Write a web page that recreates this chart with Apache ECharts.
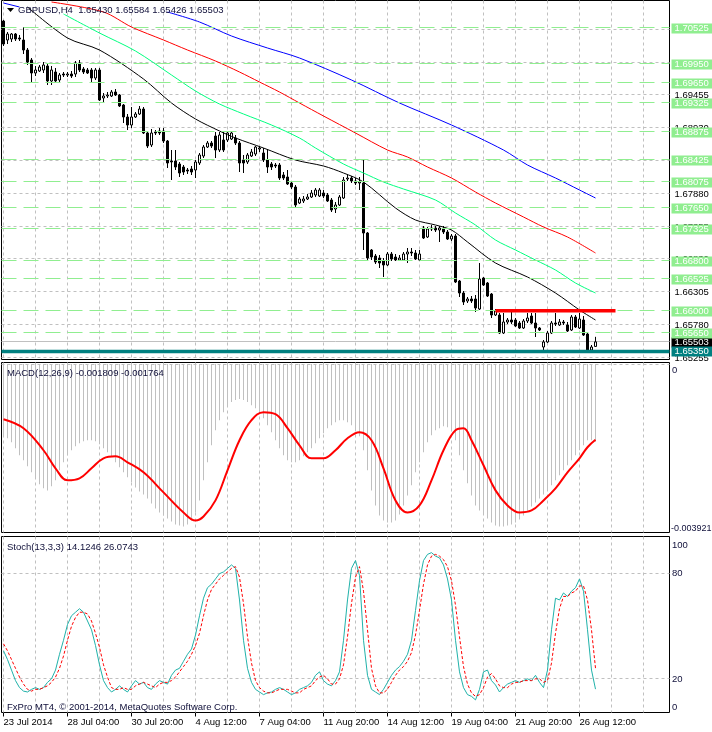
<!DOCTYPE html>
<html><head><meta charset="utf-8">
<script src="https://cdn.jsdelivr.net/npm/echarts/dist/echarts.min.js"></script>
<style>html,body{margin:0;padding:0;background:#fff}#c{width:712px;height:732px}</style>
</head><body><div id="c"></div>
<script>
// ---------- data ----------
const symbolName = 'GBPUSD,H4';
const tickLabels = ['23 Jul 2014','28 Jul 04:00','30 Jul 20:00','4 Aug 12:00','7 Aug 04:00','11 Aug 20:00','14 Aug 12:00','19 Aug 04:00','21 Aug 20:00','26 Aug 12:00'];
const slotCount = 167;
const categories = Array.from({length: slotCount}, (_, i) => String(i));

const opens = [1.70637,1.70333,1.70349,1.70429,1.70365,1.70333,1.70173,1.70013,1.69805,1.69837,
1.69853,1.69917,1.69677,1.69821,1.69693,1.69789,1.69773,1.69789,1.69789,1.69965,
1.69869,1.69853,1.69853,1.69725,1.69853,1.69405,1.69437,1.69437,1.69501,1.69453,
1.69293,1.69101,1.68973,1.69101,1.69149,1.69229,1.68845,1.68653,1.68861,1.68877,
1.68877,1.68717,1.68397,1.68397,1.68349,1.68301,1.68253,1.68269,1.68253,1.68365,
1.68477,1.68621,1.68685,1.68797,1.68573,1.68733,1.68733,1.68749,1.68765,1.68685,
1.68413,1.68381,1.68477,1.68509,1.68589,1.68525,1.68413,1.68349,1.68333,1.68333,
1.68173,1.68141,1.68045,1.67981,1.67725,1.67757,1.67789,1.67821,1.67853,1.67837,
1.67885,1.67853,1.67773,1.67629,1.67693,1.67805,1.68109,1.68125,1.68077,1.68045,
1.68045,1.67245,1.66973,1.66877,1.66845,1.66797,1.66733,1.66909,1.66861,1.66813,
1.66813,1.66909,1.66941,1.66925,1.66813,1.67325,1.67181,1.67309,1.67325,1.67293,
1.67309,1.67261,1.67149,1.67197,1.66477,1.66285,1.66157,1.66189,1.66189,1.66029,
1.66525,1.66445,1.66269,1.65933,1.65933,1.65645,1.65821,1.65853,1.65853,1.65805,
1.65725,1.65837,1.65917,1.65805,1.65725,1.65421,1.65501,1.65645,1.65805,1.65773,
1.65821,1.65773,1.65693,1.65901,1.65725,1.65853,1.65629,1.65373,1.65430];
const highs = [1.70653,1.70461,1.70445,1.70445,1.70413,1.70541,1.70205,1.70045,1.69917,1.69933,
1.69981,1.69949,1.69917,1.69885,1.69805,1.69821,1.69821,1.69837,1.69997,1.70013,
1.69901,1.69885,1.69885,1.69885,1.69885,1.69485,1.69501,1.69533,1.69549,1.69469,
1.69309,1.69149,1.69261,1.69181,1.69277,1.69261,1.68861,1.68909,1.68893,1.68925,
1.68925,1.68733,1.68573,1.68573,1.68381,1.68333,1.68285,1.68317,1.68413,1.68525,
1.68653,1.68717,1.68717,1.68861,1.68861,1.68861,1.68877,1.68877,1.68813,1.68717,
1.68493,1.68525,1.68589,1.68637,1.68637,1.68605,1.68589,1.68381,1.68365,1.68365,
1.68221,1.68253,1.68077,1.68013,1.67821,1.67837,1.67869,1.67933,1.67965,1.67965,
1.67933,1.67885,1.67805,1.67741,1.67853,1.68141,1.68173,1.68157,1.68125,1.68141,
1.68429,1.67261,1.66989,1.66909,1.66893,1.66845,1.66941,1.66941,1.66909,1.66893,
1.66941,1.67005,1.67005,1.66973,1.66973,1.67357,1.67341,1.67373,1.67357,1.67357,
1.67357,1.67293,1.67229,1.67229,1.66493,1.66317,1.66221,1.66237,1.66253,1.66765,
1.66541,1.66461,1.66285,1.66029,1.65965,1.65965,1.65885,1.65997,1.65885,1.65837,
1.65869,1.65965,1.65965,1.65965,1.65741,1.65533,1.65677,1.65837,1.65965,1.65869,
1.65853,1.65821,1.65933,1.65933,1.65965,1.65917,1.65645,1.65453,1.65584];
const lows = [1.70237,1.70269,1.70301,1.70317,1.70317,1.70109,1.69933,1.69645,1.69757,1.69821,
1.69805,1.69613,1.69613,1.69661,1.69661,1.69741,1.69741,1.69725,1.69741,1.69821,
1.69789,1.69789,1.69661,1.69693,1.69357,1.69341,1.69405,1.69421,1.69437,1.69261,
1.69005,1.68893,1.68925,1.69085,1.69133,1.68829,1.68605,1.68621,1.68813,1.68813,
1.68685,1.68285,1.68093,1.68253,1.68141,1.68173,1.68189,1.68173,1.68125,1.68333,
1.68445,1.68605,1.68605,1.68445,1.68541,1.68541,1.68701,1.68733,1.68653,1.68221,
1.68205,1.68349,1.68461,1.68477,1.68541,1.68381,1.68205,1.68253,1.68285,1.68093,
1.68093,1.68013,1.67949,1.67661,1.67709,1.67725,1.67773,1.67805,1.67821,1.67821,
1.67805,1.67741,1.67581,1.67565,1.67677,1.67789,1.68077,1.68045,1.68013,1.67933,
1.66973,1.66813,1.66813,1.66749,1.66685,1.66541,1.66717,1.66797,1.66797,1.66797,
1.66797,1.66765,1.66877,1.66813,1.66797,1.67149,1.67165,1.67277,1.67261,1.67101,
1.67229,1.67133,1.67117,1.66445,1.66221,1.66093,1.66125,1.66125,1.65981,1.66013,
1.66397,1.66221,1.65885,1.65917,1.65629,1.65629,1.65789,1.65789,1.65741,1.65709,
1.65709,1.65805,1.65789,1.65581,1.65677,1.65325,1.65485,1.65629,1.65757,1.65757,
1.65773,1.65661,1.65677,1.65725,1.65709,1.65597,1.65341,1.65357,1.65426];
const closes = [1.70269,1.70429,1.70429,1.70349,1.70349,1.70173,1.69981,1.69805,1.69853,1.69901,
1.69933,1.69677,1.69853,1.69677,1.69773,1.69773,1.69789,1.69757,1.69965,1.69853,
1.69821,1.69805,1.69725,1.69853,1.69373,1.69437,1.69453,1.69501,1.69453,1.69277,
1.69101,1.68973,1.69101,1.69149,1.69229,1.68845,1.68637,1.68845,1.68845,1.68845,
1.68717,1.68365,1.68381,1.68301,1.68205,1.68221,1.68237,1.68221,1.68381,1.68493,
1.68621,1.68685,1.68637,1.68573,1.68813,1.68573,1.68845,1.68845,1.68685,1.68365,
1.68365,1.68493,1.68541,1.68621,1.68605,1.68413,1.68301,1.68301,1.68317,1.68125,
1.68125,1.68029,1.67981,1.67693,1.67789,1.67789,1.67821,1.67885,1.67933,1.67933,
1.67837,1.67757,1.67613,1.67693,1.67821,1.68093,1.68125,1.68077,1.68045,1.68061,
1.67245,1.66845,1.66861,1.66781,1.66765,1.66733,1.66909,1.66829,1.66813,1.66845,
1.66909,1.66941,1.66925,1.66829,1.66909,1.67165,1.67309,1.67325,1.67293,1.67325,
1.67261,1.67149,1.67197,1.66461,1.66285,1.66141,1.66189,1.66157,1.66045,1.66509,
1.66413,1.66237,1.65933,1.65997,1.65645,1.65821,1.65853,1.65821,1.65757,1.65725,
1.65837,1.65885,1.65805,1.65725,1.65693,1.65501,1.65645,1.65805,1.65789,1.65821,
1.65805,1.65677,1.65901,1.65741,1.65869,1.65613,1.65357,1.65421,1.65503];

// moving averages (bar index, value)
const maBlackBars = [6,16,24,35,42,48,54,58,65,73,80,85,90,98,103,108,112,116,123,131,138,144,148];
const maBlackVals = [1.70861,1.70365,1.70173,1.69709,1.69325,1.69069,1.68877,1.68765,1.68605,1.68413,1.68317,1.68205,1.68061,1.67645,1.67453,1.67373,1.67293,1.67101,1.66765,1.66541,1.66285,1.66013,1.65853];
const maGreenBars = [15,24,33,42,48,54,60,67,74,78,85,90,95,100,108,113,118,123,128,133,138,143,148];
const maGreenVals = [1.70749,1.70445,1.70157,1.69773,1.69517,1.69309,1.69149,1.68973,1.68765,1.68605,1.68349,1.68205,1.68061,1.67949,1.67773,1.67565,1.67373,1.67133,1.66973,1.66813,1.66653,1.66445,1.66285];
const maRedBars = [12,25,32,40,46,53,59,64,69,74,80,88,96,101,106,112,118,123,130,135,141,148];
const maRedVals = [1.70941,1.70781,1.70541,1.70333,1.70173,1.69997,1.69821,1.69661,1.69501,1.69325,1.69117,1.68845,1.68573,1.68461,1.68301,1.68125,1.67901,1.67725,1.67501,1.67341,1.67181,1.66925];
const maBlueHeadBars = [0,4];
const maBlueHeadVals = [1.70925,1.70861];
const maBlueBars = [41,49,57,66,74,87,99,112,125,131,138,144,148];
const maBlueVals = [1.70781,1.70621,1.70397,1.70205,1.70045,1.69693,1.69325,1.68973,1.68573,1.68333,1.68125,1.67933,1.67805];

// horizontal objects
const greenLevels = [1.70525,1.69950,1.69650,1.69325,1.68875,1.68425,1.68075,1.67650,1.67325,1.66800,1.66525,1.66000,1.65650];
const supportLevel = 1.65350;
const bidPrice = 1.65503;
const redLevel = 1.66000, redFromBar = 123, redToBar = 153;
const priceGridTicks = [1.65255,1.65780,1.66305,1.66830,1.67355,1.67880,1.68405,1.68930,1.69455,1.69980,1.70505];
const priceMin = 1.65221, priceMax = 1.70965;

// MACD(12,26,9)
const macdMain = [-0.001657,-0.001727,-0.001821,-0.001961,-0.002124,-0.002241,-0.002381,-0.002521,-0.002661,-0.002801,
-0.002894,-0.002941,-0.002847,-0.002707,-0.002474,-0.002287,-0.002124,-0.002007,-0.001914,-0.001844,
-0.001797,-0.001774,-0.001774,-0.001797,-0.001867,-0.001961,-0.002054,-0.002147,-0.002287,-0.002404,
-0.002521,-0.002637,-0.002754,-0.002871,-0.002964,-0.003034,-0.003128,-0.003244,-0.003361,-0.003454,
-0.003524,-0.003594,-0.003664,-0.003734,-0.003758,-0.003781,-0.003734,-0.003641,-0.003454,-0.003174,
-0.002707,-0.002287,-0.001891,-0.001540,-0.001307,-0.001120,-0.000980,-0.000887,-0.000840,-0.000817,
-0.000840,-0.000887,-0.000957,-0.001027,-0.001120,-0.001260,-0.001424,-0.001587,-0.001774,-0.001961,
-0.002124,-0.002241,-0.002287,-0.002287,-0.002241,-0.002147,-0.002054,-0.001961,-0.001844,-0.001727,
-0.001610,-0.001494,-0.001424,-0.001354,-0.001307,-0.001307,-0.001354,-0.001424,-0.001540,-0.001680,
-0.002007,-0.002474,-0.002941,-0.003291,-0.003524,-0.003641,-0.003688,-0.003688,-0.003641,-0.003501,
-0.003291,-0.003058,-0.002824,-0.002521,-0.002287,-0.002054,-0.001821,-0.001657,-0.001540,-0.001494,
-0.001447,-0.001470,-0.001540,-0.001774,-0.002124,-0.002474,-0.002777,-0.003058,-0.003291,-0.003408,
-0.003501,-0.003594,-0.003688,-0.003758,-0.003781,-0.003781,-0.003758,-0.003734,-0.003688,-0.003618,
-0.003524,-0.003408,-0.003314,-0.003221,-0.003128,-0.003034,-0.002941,-0.002824,-0.002707,-0.002591,
-0.002474,-0.002357,-0.002241,-0.002124,-0.002007,-0.001891,-0.001774,-0.001774,-0.001809];
const macdSignalBars = [0,5,10,13,16,19,22,25,28,31,35,40,45,48,50,53,56,59,62,65,68,71,74,77,80,83,86,89,92,95,98,101,104,107,110,113,115,117,120,123,126,129,132,135,138,141,144,146,148];
const macdSignalVals = [-0.001284,-0.001494,-0.002007,-0.002427,-0.002707,-0.002661,-0.002427,-0.002194,-0.002147,-0.002287,-0.002521,-0.002988,-0.003454,-0.003641,-0.003548,-0.003174,-0.002474,-0.001774,-0.001307,-0.001120,-0.001167,-0.001494,-0.001891,-0.002194,-0.002194,-0.002007,-0.001727,-0.001587,-0.001774,-0.002427,-0.003174,-0.003454,-0.003291,-0.002707,-0.002007,-0.001540,-0.001494,-0.001774,-0.002357,-0.002941,-0.003291,-0.003454,-0.003408,-0.003174,-0.002894,-0.002521,-0.002194,-0.001937,-0.001764];
const macdMin = -0.003921;

// Stoch(13,3,3)
const stochMain = [36,31,25,19,15,13,12.5,14,15,14,15,18,20,25,34,42,51,56,58,60,58,53,48,39,28,19,15,12.5,14,16,
14,12.5,16,19,17,18,15,14,17,19,18,17,22,25,26,30,34,37,45,56,66,72,74,77,80,81,83,85,83,65,
42,26,18,14,12.5,11,12,12.5,14,15,14,12.5,11,12,14,15,16,18,22,24,19,17,16,19,24,42,65,83,87.5,79,
42,22,14,12.5,11,14,18,22,25,27,30,34,42,59,76,87.5,91,92,90,89,85,77,65,42,24,15,11,10,8,14,
24,25,19,16.5,12.5,15,17,18,19,18,19,20,19,22,18,15,25,48,66,65,69,67,70,72,77,70,48,25,14.1246];
const stochSignal = [40,36,31,26,21,17,14,13,14,14,15,16,18,21,26,33,42,50,55,58,58,57,53,46,38,28,21,15,14,14,
15,14,14,16,17,18,17,16,15,17,18,18,19,21,24,27,30,34,39,46,56,65,71,74,77,79,81,83,84,78,
63,44,29,19,15,13,12,12,13,14,14,14,13,12,12,14,15,16,19,21,22,20,17,17,20,28,44,63,78,84,
70,48,26,16,12,12,14,18,22,25,27,30,35,45,59,74,85,90,91,90,88,84,76,62,44,27,17,12,10,11,
15,21,23,20,16,15,15,17,18,18,19,19,19,20,20,18,19,29,46,60,67,67,69,70,73,73,65,48,26.0743];
const stochLevels = [80, 20];
const stochAxisLabels = [100, 80, 20, 0];

// ---------- chart ----------
const FONT = 'Liberation Sans';
const FONTCSS = '9.5px "Liberation Sans"';
const TXT = '#10103a';
const last = closes.length - 1;
const pairs = (bars, vals) => bars.map((b, k) => [b, vals[k]]);
const gridLeft = 1.5, gridWidth = 668;
const vertIdx = []; for (let i = 0; i < slotCount; i += 8) vertIdx.push(i);
const crisp = (v) => Math.round(v - 0.5) + 0.5;

// horizontal rule lines (+ optional right-side price tag) drawn through the axis scale
function hLines(gi, levels, lineStyle, tag, z) {
  return {
    type: 'custom', xAxisIndex: gi, yAxisIndex: gi, z: z, silent: true, clip: false,
    data: levels.map(v => [0, v]), encode: {x: 0, y: 1},
    renderItem: (params, api) => {
      const cs = params.coordSys;
      const val = api.value(1);
      let y = api.coord([0, val])[1];
      if (lineStyle.lineWidth === 1) y = crisp(y);
      const children = [{type: 'line', shape: {x1: cs.x, y1: y, x2: cs.x + cs.width, y2: y}, style: lineStyle}];
      if (tag) {
        children.push({type: 'text', x: cs.x + cs.width + 2, y: Math.round(y) + 0.5, z2: 10,
          style: {text: val.toFixed(5), fill: tag.color, backgroundColor: tag.bg || null, padding: tag.bg ? [0, 7, 0, 3] : [0, 0, 0, 3],
            font: FONTCSS, lineHeight: 10, verticalAlign: 'middle', align: 'left'}});
      }
      return {type: 'group', children};
    }
  };
}
function vLines(gi, z) {
  return {
    type: 'custom', xAxisIndex: gi, yAxisIndex: gi, z: z, silent: true,
    data: vertIdx.map(i => [i, 0]), encode: {x: 0, y: 1},
    renderItem: (params, api) => {
      const cs = params.coordSys;
      const x = crisp(api.coord([api.value(0), 0])[0]);
      return {type: 'line', shape: {x1: x, y1: cs.y, x2: x, y2: cs.y + cs.height}, style: {stroke: '#c0c0c0', lineWidth: 1, lineDash: [3, 3]}};
    }
  };
}
const gridDash = {stroke: '#c0c0c0', lineWidth: 1, lineDash: [3, 3]};

function xAxisDef(gi, showLabels) {
  return {
    type: 'category', gridIndex: gi, data: categories, boundaryGap: true,
    axisLine: {show: false}, splitLine: {show: false},
    axisTick: {show: showLabels, alignWithLabel: true, length: 4, interval: (i) => i % 16 === 0 && i / 16 < tickLabels.length, lineStyle: {color: '#000'}},
    axisLabel: {show: showLabels, align: 'left', margin: 5, fontFamily: FONT, fontSize: 9.5, color: '#000',
      interval: (i) => i % 16 === 0 && i / 16 < tickLabels.length,
      formatter: (v, i) => tickLabels[i / 16] || ''}
  };
}

const option = {
  animation: false,
  backgroundColor: '#fff',
  grid: [
    {left: gridLeft, top: 0.5, width: gridWidth, height: 359, show: true, borderColor: '#000', borderWidth: 1},
    {left: gridLeft, top: 362.5, width: gridWidth, height: 170, show: true, borderColor: '#000', borderWidth: 1},
    {left: gridLeft, top: 536.5, width: gridWidth, height: 176, show: true, borderColor: '#000', borderWidth: 1}
  ],
  xAxis: [xAxisDef(0, false), xAxisDef(1, false), xAxisDef(2, true)],
  yAxis: [
    {type: 'value', gridIndex: 0, min: priceMin, max: priceMax, show: false, splitLine: {show: false}},
    {type: 'value', gridIndex: 1, min: macdMin, max: 0.000035, show: false, splitLine: {show: false}},
    {type: 'value', gridIndex: 2, min: 0.8, max: 101.2, show: false, splitLine: {show: false}}
  ],
  series: [
    // grids
    vLines(0, 1), vLines(1, 1), vLines(2, 1),
    hLines(0, priceGridTicks, gridDash, {color: '#000'}, 1),
    hLines(1, [0], gridDash, null, 1),
    hLines(2, stochLevels, gridDash, null, 1),
    // bid line
    hLines(0, [bidPrice], {stroke: '#c0c0c0', lineWidth: 1}, {color: '#fff', bg: '#000'}, 2),
    // candles
    {type: 'candlestick', xAxisIndex: 0, yAxisIndex: 0, z: 3, barWidth: 3,
      itemStyle: {color: '#fff', color0: '#000', borderColor: '#000', borderColor0: '#000', borderColorDoji: '#000', borderWidth: 1},
      data: opens.map((o, i) => [o, closes[i], lows[i], highs[i]])},
    // moving averages
    {type: 'line', xAxisIndex: 0, yAxisIndex: 0, z: 4, symbol: 'none', smooth: 0.3, lineStyle: {color: '#000', width: 1}, data: pairs(maBlackBars, maBlackVals)},
    {type: 'line', xAxisIndex: 0, yAxisIndex: 0, z: 4, symbol: 'none', smooth: 0.3, lineStyle: {color: '#00ff7f', width: 1}, data: pairs(maGreenBars, maGreenVals)},
    {type: 'line', xAxisIndex: 0, yAxisIndex: 0, z: 4, symbol: 'none', smooth: 0.3, lineStyle: {color: '#ff0000', width: 1}, data: pairs(maRedBars, maRedVals)},
    {type: 'line', xAxisIndex: 0, yAxisIndex: 0, z: 4, symbol: 'none', smooth: 0.3, lineStyle: {color: '#0000ff', width: 1}, data: pairs(maBlueBars, maBlueVals)},
    {type: 'line', xAxisIndex: 0, yAxisIndex: 0, z: 4, symbol: 'none', lineStyle: {color: '#0000ff', width: 1}, data: pairs(maBlueHeadBars, maBlueHeadVals)},
    // green levels
    hLines(0, greenLevels, {stroke: '#90ee90', lineWidth: 1, lineDash: [15, 7]}, {color: '#fff', bg: '#90ee90'}, 5),
    // support level (teal)
    hLines(0, [supportLevel], {stroke: '#008080', lineWidth: 3.5}, {color: '#fff', bg: '#008080'}, 6),
    // red resistance segment
    {type: 'custom', xAxisIndex: 0, yAxisIndex: 0, z: 6, silent: true,
      data: [[redFromBar, redLevel, redToBar]], encode: {x: 0, y: 1},
      renderItem: (params, api) => {
        const p1 = api.coord([api.value(0), api.value(1)]);
        const p2 = api.coord([api.value(2), api.value(1)]);
        return {type: 'line', shape: {x1: p1[0], y1: p1[1], x2: p2[0], y2: p2[1]}, style: {stroke: '#ff0000', lineWidth: 3.5}};
      }},
    // MACD
    {type: 'bar', xAxisIndex: 1, yAxisIndex: 1, z: 2, barWidth: 1, itemStyle: {color: '#c0c0c0'}, data: macdMain},
    {type: 'line', xAxisIndex: 1, yAxisIndex: 1, z: 3, symbol: 'none', smooth: 0.4, lineStyle: {color: '#ff0000', width: 2}, data: pairs(macdSignalBars, macdSignalVals)},
    // Stochastic
    {type: 'line', xAxisIndex: 2, yAxisIndex: 2, z: 3, symbol: 'none', lineStyle: {color: '#20b2aa', width: 1}, data: stochMain},
    {type: 'line', xAxisIndex: 2, yAxisIndex: 2, z: 3, symbol: 'none', lineStyle: {color: '#ff0000', width: 1, type: [3, 2]}, data: stochSignal}
  ],
  graphic: [
    {type: 'polygon', shape: {points: [[7, 8], [14, 8], [10.5, 12]]}, style: {fill: '#000'}, z: 100},
    {type: 'text', left: 18, top: 5, z: 100, style: {text: symbolName + '  ' + [opens[last], highs[last], lows[last], closes[last]].map(v => v.toFixed(5)).join(' '), fill: TXT, font: FONTCSS}},
    {type: 'text', left: 7, top: 368, z: 100, style: {text: 'MACD(12,26,9) ' + macdMain[last].toFixed(6) + ' ' + macdSignalVals[macdSignalVals.length - 1].toFixed(6), fill: TXT, font: FONTCSS}},
    {type: 'text', x: 672, y: 370, z: 100, style: {text: '0', fill: TXT, font: FONTCSS, verticalAlign: 'middle'}},
    {type: 'text', x: 671, y: 529, z: 100, style: {text: macdMin.toFixed(6), fill: TXT, font: '9px "Liberation Sans"', verticalAlign: 'middle'}},
    {type: 'text', left: 7, top: 542, z: 100, style: {text: 'Stoch(13,3,3) ' + stochMain[last].toFixed(4) + ' ' + stochSignal[last].toFixed(4), fill: TXT, font: FONTCSS}},
    {type: 'text', x: 672, y: 545.5, z: 100, style: {text: String(stochAxisLabels[0]), fill: TXT, font: FONTCSS, verticalAlign: 'middle'}},
    {type: 'text', x: 672, y: 573.5, z: 100, style: {text: String(stochAxisLabels[1]), fill: TXT, font: FONTCSS, verticalAlign: 'middle'}},
    {type: 'text', x: 672, y: 679, z: 100, style: {text: String(stochAxisLabels[2]), fill: TXT, font: FONTCSS, verticalAlign: 'middle'}},
    {type: 'text', x: 672, y: 707, z: 100, style: {text: String(stochAxisLabels[3]), fill: TXT, font: FONTCSS, verticalAlign: 'middle'}},
    {type: 'text', left: 7, top: 702, z: 100, style: {text: 'FxPro MT4, \u00a9 2001-2014, MetaQuotes Software Corp.', fill: TXT, font: FONTCSS}}
  ]
};
const chart = echarts.init(document.getElementById('c'), null, {renderer: 'canvas'});
chart.setOption(option);
</script>
</body></html>
